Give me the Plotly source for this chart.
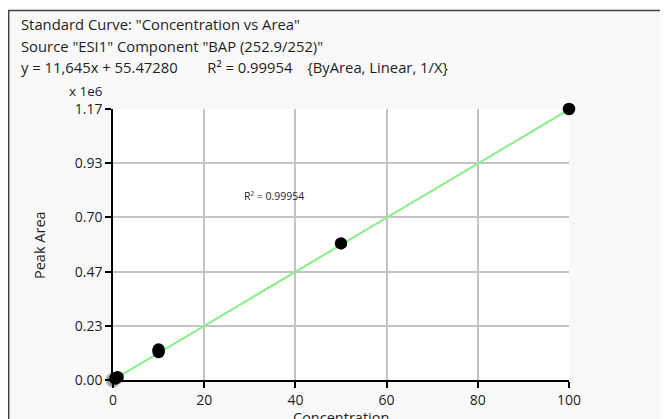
import plotly.graph_objects as go

# ---- data ----
conc_points = [0.5, 1.0, 10, 10, 50, 100]
area_points = [6000, 12000, 120500, 131000, 588000, 1166700]
excluded_conc = [0]
excluded_area = [0]
slope = 11645
intercept = 55.4728
fit_x = [0, 100]
fit_y = [slope * x + intercept for x in fit_x]
y_tickvals = [0, 233340, 466680, 700020, 933360, 1166700]
y_ticktext = ["0.00", "0.23", "0.47", "0.70", "0.93", "1.17"]
x_tickvals = [0, 20, 40, 60, 80, 100]
title_lines = [
    'Standard Curve: "Concentration vs Area"',
    'Source "ESI1" Component "BAP (252.9/252)"',
    'y = 11,645x + 55.47280\u2002\u2002\u2002\u2002R² = 0.99954\u2002\u2002{ByArea, Linear, 1/X}',
]
r2_label = "R² = 0.99954"

# page body has an 8px margin; figure positioned at (8, 8) in the window
OFF = 8
W, H = 668 - OFF, 419 - OFF
L, R, T, B = 113 - OFF, 99, 109 - OFF, 39
pw, ph = W - L - R, H - T - B

def px(xp):  # window pixel -> paper coord
    return (xp - OFF - L) / pw

def py(yp):
    return (H - B - (yp - OFF)) / ph

font = "Open Sans, Noto Sans, sans-serif"
fig = go.Figure()
fig.add_trace(go.Scatter(x=fit_x, y=fit_y, mode="lines",
                         line=dict(color="#90ee90", width=2.2), hoverinfo="skip"))
fig.add_trace(go.Scatter(x=excluded_conc, y=excluded_area, mode="markers",
                         marker=dict(color="#9a9a9a", size=14,
                                     line=dict(color="#c8c8c8", width=1.5)),
                         cliponaxis=False))
fig.add_trace(go.Scatter(x=conc_points, y=area_points, mode="markers",
                         marker=dict(color="black", size=12.5), cliponaxis=False))

ann = []
for i, t in enumerate(title_lines):
    ann.append(dict(text=t, xref="paper", yref="paper", x=px(19), y=py([24, 46, 67][i]),
                    xanchor="left", yanchor="middle", showarrow=False,
                    font=dict(size=14.8, color="#1e1e1e", family=font)))
ann.append(dict(text=r2_label, xref="paper", yref="paper", x=px(274), y=py(196),
                xanchor="center", yanchor="middle", showarrow=False,
                font=dict(size=10.5, color="#1e1e1e", family=font)))
ann.append(dict(text="x 1e6", xref="paper", yref="paper", x=px(86), y=py(91),
                xanchor="center", yanchor="middle", showarrow=False,
                font=dict(size=13.5, color="#1e1e1e", family=font)))
ann.append(dict(text="Peak Area", xref="paper", yref="paper", x=px(39), y=py(245),
                xanchor="center", yanchor="middle", showarrow=False, textangle=-90,
                font=dict(size=14.5, color="#1e1e1e", family=font)))
ann.append(dict(text="Concentration", xref="paper", yref="paper", x=px(341), y=py(417),
                xanchor="center", yanchor="middle", showarrow=False,
                font=dict(size=14.5, color="#1e1e1e", family=font)))

shapes = [
    dict(type="line", xref="paper", yref="paper", x0=px(8), x1=px(670), y0=py(10.5), y1=py(10.5),
         line=dict(color="#444444", width=1.5)),
    dict(type="line", xref="paper", yref="paper", x0=px(8.7), x1=px(8.7), y0=py(10), y1=py(421),
         line=dict(color="#444444", width=1.5)),
]

fig.update_layout(
    width=W, height=H, margin=dict(l=L, r=R, t=T, b=B, autoexpand=False),
    paper_bgcolor="#f9f9f9", plot_bgcolor="white", showlegend=False,
    annotations=ann, shapes=shapes,
    font=dict(family=font, size=14, color="#1e1e1e"),
)
fig.update_xaxes(range=[0, 100], tickvals=x_tickvals, showgrid=True, gridcolor="#c4c4c4",
                 gridwidth=1.5, showline=True, linecolor="black", linewidth=1.5,
                 ticks="outside", ticklen=6, tickcolor="black", tickwidth=1.5,
                 tickfont=dict(size=14), zeroline=False, fixedrange=True)
fig.update_yaxes(range=[0, 1166700], tickvals=y_tickvals, ticktext=y_ticktext,
                 showgrid=True, gridcolor="#c4c4c4", gridwidth=1.5, showline=True,
                 linecolor="black", linewidth=1.5, ticks="outside", ticklen=6,
                 tickcolor="black", tickwidth=1.5, tickfont=dict(size=14),
                 zeroline=False, fixedrange=True)

fig.write_html("out.html")
